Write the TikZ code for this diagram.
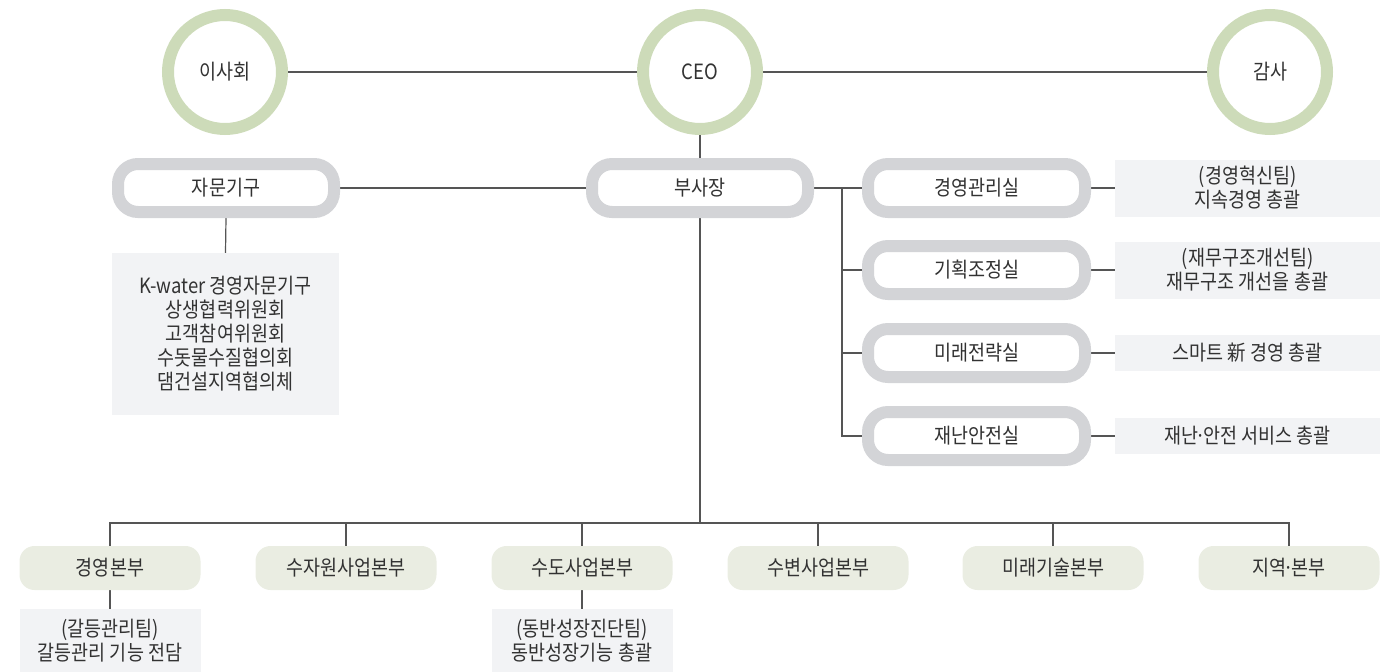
\documentclass[tikz,border=0pt]{standalone}
\usepackage{fontspec}
\setmainfont{Noto Sans CJK KR}[FakeStretch=0.88]
\usetikzlibrary{backgrounds}
\definecolor{ringgreen}{RGB}{205,219,185}
\definecolor{ringgray}{RGB}{211,212,215}
\definecolor{infogray}{RGB}{242,243,245}
\definecolor{unitgreen}{RGB}{234,237,226}
\definecolor{linegray}{RGB}{85,85,85}
\definecolor{txt}{RGB}{50,50,50}
\newcommand{\mdot}{\kern-0.12em·\kern-0.12em}
\tikzset{
  basefont/.style={text=txt, font=\fontsize{21}{24}\selectfont},
  ringc/.style={circle, draw=ringgreen, line width=12pt, minimum size=114pt, inner sep=0pt, fill=white, basefont},
  ringbox/.style={draw=ringgray, line width=12pt, rounded corners=20pt, minimum width=216pt, minimum height=48pt, fill=white, inner sep=0pt, basefont},
  infobox/.style={fill=infogray, minimum width=265pt, minimum height=57pt, align=center, inner sep=0pt, basefont},
  unitbox/.style={fill=unitgreen, rounded corners=15pt, minimum width=181pt, minimum height=44pt, inner sep=0pt, basefont},
  conn/.style={draw=linegray, line width=1.2pt}
}
\begin{document}
\begin{tikzpicture}[x=1pt,y=-1pt]
\useasboundingbox (0,0) rectangle (1398,672);
% top circles
\node[ringc] (board) at (225,72) {이사회};
\node[ringc] (ceo) at (700,72) {CEO};
\node[ringc] (audit) at (1270,72) {감사};
% second row
\node[ringbox] (adv) at (226,188) {자문기구};
\node[ringbox] (vp) at (700,188) {부사장};
\node[infobox, minimum width=227pt, minimum height=162pt] (advlist) at (225.5,334) {K-water 경영자문기구\\상생협력위원회\\고객참여위원회\\수돗물수질협의회\\댐건설지역협의체};
% offices
\node[ringbox, minimum width=217pt] (o1) at (976.5,188) {경영관리실};
\node[ringbox, minimum width=217pt] (o2) at (976.5,270) {기획조정실};
\node[ringbox, minimum width=217pt] (o3) at (976.5,353) {미래전략실};
\node[ringbox, minimum width=217pt] (o4) at (976.5,436) {재난안전실};
\node[infobox] (i1) at (1247.5,188) {(경영혁신팀)\\지속경영 총괄};
\node[infobox] (i2) at (1247.5,270) {(재무구조개선팀)\\재무구조 개선을 총괄};
\node[infobox, minimum height=36pt] (i3) at (1247.5,353) {스마트 新 경영 총괄};
\node[infobox, minimum height=36pt] (i4) at (1247.5,436) {재난\mdot 안전 서비스 총괄};
% headquarters
\node[unitbox] (u1) at (110,568) {경영본부};
\node[unitbox] (u2) at (346,568) {수자원사업본부};
\node[unitbox] (u3) at (582,568) {수도사업본부};
\node[unitbox] (u4) at (818,568) {수변사업본부};
\node[unitbox] (u5) at (1053,568) {미래기술본부};
\node[unitbox] (u6) at (1289,568) {지역\mdot 본부};
\node[infobox, minimum width=181pt, minimum height=63pt] (s1) at (110,640.5) {(갈등관리팀)\\갈등관리 기능 전담};
\node[infobox, minimum width=181pt, minimum height=63pt] (s3) at (582,640.5) {(동반성장진단팀)\\동반성장기능 총괄};
% junctions
\coordinate (j1) at (842,188);
\coordinate (jb) at (700,523);
\begin{pgfonlayer}{background}
\draw[conn] (board.east) -- (ceo.west);
\draw[conn] (ceo.east) -- (audit.west);
\draw[conn] (ceo.south) -- (vp.north);
\draw[conn] (adv.east) -- (vp.west);
\draw[conn] (adv.south) -- (advlist.north);
\draw[conn] (vp.east) -- (o1.west);
\draw[conn] (j1) |- (o4.west);
\draw[conn] (j1 |- o2.west) -- (o2.west);
\draw[conn] (j1 |- o3.west) -- (o3.west);
\draw[conn] (o1.east) -- (i1.west);
\draw[conn] (o2.east) -- (i2.west);
\draw[conn] (o3.east) -- (i3.west);
\draw[conn] (o4.east) -- (i4.west);
\draw[conn] (vp.south) -- (jb);
\draw[conn] (u1.north) |- (u6.north |- jb) -- (u6.north);
\draw[conn] (u2.north) -- (u2.north |- jb);
\draw[conn] (u3.north) -- (u3.north |- jb);
\draw[conn] (u4.north) -- (u4.north |- jb);
\draw[conn] (u5.north) -- (u5.north |- jb);
\draw[conn] (u1.south) -- (s1.north);
\draw[conn] (u3.south) -- (s3.north);
\end{pgfonlayer}
\end{tikzpicture}
\end{document}
